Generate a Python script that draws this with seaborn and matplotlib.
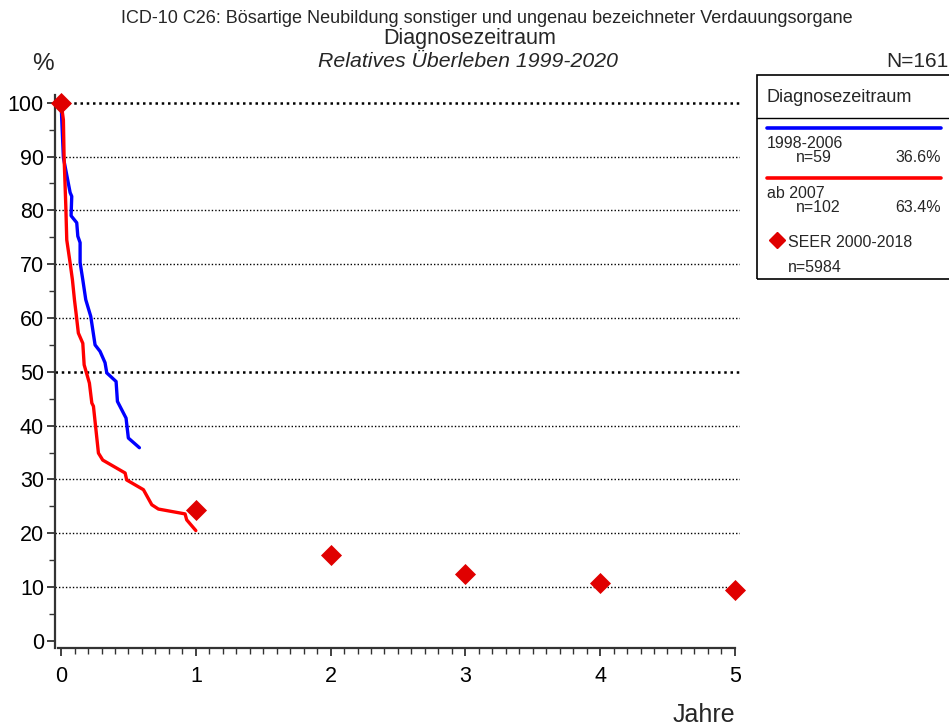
import numpy as np
import pandas as pd
import matplotlib
matplotlib.use('Agg')
import matplotlib.pyplot as plt
import seaborn as sns
from matplotlib.patches import Rectangle
from matplotlib.lines import Line2D
from matplotlib.ticker import MultipleLocator

# relative survival, diagnosis period 1998-2006 (n=59)
t_old = [0, 0.005, 0.017, 0.067, 0.079, 0.074, 0.116, 0.124, 0.141, 0.141, 0.161,
         0.183, 0.220, 0.252, 0.289, 0.326, 0.339, 0.408, 0.418, 0.482, 0.499, 0.581]
s_old = [100, 96.8, 89.8, 83.3, 82.6, 79.0, 77.7, 75.2, 74.0, 70.3, 67.1,
         63.4, 60.3, 55.0, 53.8, 51.7, 49.8, 48.2, 44.5, 41.4, 37.7, 35.9]

# ab 2007 (n=102)
t_new = [0, 0.017, 0.022, 0.035, 0.042, 0.067, 0.084, 0.099, 0.111, 0.128, 0.161,
         0.171, 0.210, 0.228, 0.240, 0.277, 0.309, 0.475, 0.487, 0.611, 0.673,
         0.722, 0.920, 0.932, 1.0]
s_new = [100, 96.8, 90.0, 80.7, 74.5, 70.2, 67.1, 63.4, 60.9, 57.2, 55.3,
         51.3, 47.9, 44.2, 43.6, 34.9, 33.6, 31.2, 29.9, 28.1, 25.3,
         24.5, 23.6, 22.5, 20.5]

# SEER 2000-2018 (n=5984)
seer_years = [0, 1, 2, 3, 4, 5]
seer_surv = [100, 24.3, 16.0, 12.5, 10.8, 9.5]

sns.set_style('white')
plt.rcParams['font.family'] = ['Liberation Sans', 'DejaVu Sans']

BLUE = '#0000ff'
RED = '#ff0000'
SEER_RED = '#e00000'

fig = plt.figure(figsize=(9.49, 7.28), dpi=100)
ax = fig.add_axes([0.058, 0.110, 0.722, 0.760])

df_old = pd.DataFrame({'Jahre': t_old, 'surv': s_old})
df_new = pd.DataFrame({'Jahre': t_new, 'surv': s_new})
df_seer = pd.DataFrame({'Jahre': seer_years, 'surv': seer_surv})

# grid lines (dotted); 50 and 100 heavier
for yv in range(10, 101, 10):
    lw = 1.8 if yv in (50, 100) else 1.0
    ax.axhline(yv, color='black', linestyle=(0, (1, 1.5)), linewidth=lw, zorder=1)

sns.lineplot(data=df_old, x='Jahre', y='surv', sort=False, estimator=None,
             color=BLUE, linewidth=2.4, ax=ax, zorder=3)
sns.lineplot(data=df_new, x='Jahre', y='surv', sort=False, estimator=None,
             color=RED, linewidth=2.4, ax=ax, zorder=4)
sns.scatterplot(data=df_seer, x='Jahre', y='surv', marker='D', s=115,
                color=SEER_RED, edgecolor=SEER_RED, linewidth=0, ax=ax, zorder=5,
                clip_on=False)

ax.set_xlim(-0.045, 5.04)
ax.set_ylim(-1.3, 101.5)
ax.set_xlabel('')
ax.set_ylabel('')

for s in ['top', 'right']:
    ax.spines[s].set_visible(False)
for s in ['left', 'bottom']:
    ax.spines[s].set_color('#333333')
    ax.spines[s].set_linewidth(1.6)
ax.spines['bottom'].set_bounds(-0.025, 5.0)

ax.xaxis.set_major_locator(MultipleLocator(1))
ax.xaxis.set_minor_locator(MultipleLocator(0.1))
ax.yaxis.set_major_locator(MultipleLocator(10))
ax.yaxis.set_minor_locator(MultipleLocator(5))
ax.tick_params(axis='both', which='major', direction='out', length=6, width=1.3,
               color='#333333', labelsize=15.5, labelcolor='black', left=True, bottom=True)
ax.tick_params(axis='both', which='minor', direction='out', length=4, width=1.0,
               color='#333333', left=True, bottom=True)
ax.tick_params(axis='x', which='major', pad=7)
ax.tick_params(axis='y', which='major', pad=2)

# titles
fig.text(0.513, 0.975, 'ICD-10 C26: Bösartige Neubildung sonstiger und ungenau bezeichneter Verdauungsorgane',
         ha='center', va='center', fontsize=13)
fig.text(0.495, 0.947, 'Diagnosezeitraum', ha='center', va='center', fontsize=15.5)
fig.text(0.493, 0.916, 'Relatives Überleben 1999-2020', ha='center', va='center',
         fontsize=15.3, style='italic')
fig.text(0.045, 0.912, '%', ha='center', va='center', fontsize=17.5)
fig.text(0.999, 0.916, 'N=161', ha='right', va='center', fontsize=15)
fig.text(0.742, 0.018, 'Jahre', ha='center', va='center', fontsize=18)

# legend box
def fx(px):
    return px / 949.0

def fy(py):
    return 1 - py / 728.0

fig.patches.append(Rectangle((fx(757), fy(279)), fx(200), fy(75) - fy(279),
                             transform=fig.transFigure, fill=False,
                             edgecolor='black', linewidth=1.2))
fig.lines.append(Line2D([fx(757), fx(957)], [fy(118), fy(118)],
                        transform=fig.transFigure, color='black', linewidth=1.0))
fig.text(fx(767), fy(98), 'Diagnosezeitraum', ha='left', va='center', fontsize=13)

fig.lines.append(Line2D([fx(767), fx(941)], [fy(128), fy(128)],
                        transform=fig.transFigure, color=BLUE, linewidth=2.6))
fig.text(fx(767), fy(143), '1998-2006', ha='left', va='center', fontsize=11.5)
fig.text(fx(796), fy(157), 'n=59', ha='left', va='center', fontsize=11.5)
fig.text(fx(941), fy(157), '36.6%', ha='right', va='center', fontsize=11.5)

fig.lines.append(Line2D([fx(767), fx(941)], [fy(178), fy(178)],
                        transform=fig.transFigure, color=RED, linewidth=2.6))
fig.text(fx(767), fy(193), 'ab 2007', ha='left', va='center', fontsize=11.5)
fig.text(fx(796), fy(207), 'n=102', ha='left', va='center', fontsize=11.5)
fig.text(fx(941), fy(207), '63.4%', ha='right', va='center', fontsize=11.5)

fig.lines.append(Line2D([fx(777)], [fy(240)], transform=fig.transFigure,
                        marker='D', markersize=8, color=SEER_RED, linestyle='none'))
fig.text(fx(788), fy(243), 'SEER 2000-2018', ha='left', va='center', fontsize=11.5)
fig.text(fx(788), fy(267), 'n=5984', ha='left', va='center', fontsize=11.5)

plt.savefig('out.png', dpi=100)
plt.close()
